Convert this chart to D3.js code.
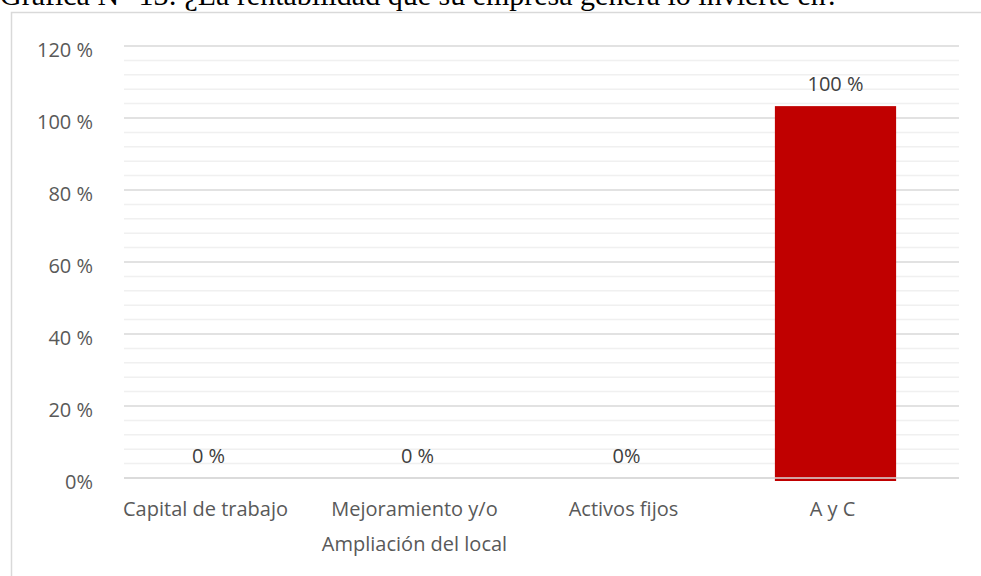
<!DOCTYPE html>
<html>
<head>
<meta charset="utf-8">
<script src="https://cdn.jsdelivr.net/npm/d3@7"></script>
<style>
	body { margin: 0; background: #fff; }
	svg { display: block; }
</style>
</head>
<body>
<svg id="chart" width="981" height="576"></svg>
<script>
const TITLE = 'Gráfica N° 13: ¿La rentabilidad que su empresa genera lo invierte en?';
const categories = [['Capital de trabajo'], ['Mejoramiento y/o', 'Ampliación del local'], ['Activos fijos'], ['A y C']];
const values = [0, 0, 0, 103.3];
const valueLabels = ['0 %', '0 %', '0%', '100 %'];
const yTicks = [0, 20, 40, 60, 80, 100, 120];
const yTickLabels = ['0%', '20 %', '40 %', '60 %', '80 %', '100 %', '120 %'];

const svg = d3.select('#chart');
const FONT = '"Open Sans", sans-serif';
const TEXT_COLOR = '#595959';

// frame (cut off on the right, like the source)
svg.append('rect')
	.attr('x', 11.5)
	.attr('y', 12.5)
	.attr('width', 1000)
	.attr('height', 600)
	.attr('fill', 'none')
	.attr('stroke', '#d9d9d9')
	.attr('stroke-width', 1.5);

// title, mostly above the page edge
svg.append('text')
	.attr('x', 0)
	.attr('y', 5)
	.attr('font-family', '"Liberation Serif", serif')
	.attr('font-size', 30)
	.attr('fill', '#000')
	.text(TITLE);

const y = d3.scaleLinear().domain([0, 120]).range([478, 46]);
const x = d3.scaleBand()
	.domain(d3.range(categories.length))
	.range([104, 940])
	.paddingInner(0.42)
	.paddingOuter(0.21);

const gridX1 = 124, gridX2 = 959;

// minor gridlines
svg.append('g')
	.selectAll('line')
	.data(d3.range(0, 121, 4).filter((v) => v % 20 !== 0))
	.join('line')
	.attr('x1', gridX1)
	.attr('x2', gridX2)
	.attr('y1', (d) => y(d))
	.attr('y2', (d) => y(d))
	.attr('stroke', '#f0f0f0')
	.attr('stroke-width', 1.5);

// major gridlines
svg.append('g')
	.selectAll('line')
	.data(yTicks)
	.join('line')
	.attr('x1', gridX1)
	.attr('x2', gridX2)
	.attr('y1', (d) => y(d))
	.attr('y2', (d) => y(d))
	.attr('stroke', '#d9d9d9')
	.attr('stroke-width', 1.5);

// y tick labels
svg.append('g')
	.selectAll('text')
	.data(yTicks)
	.join('text')
	.attr('x', 93)
	.attr('y', (d) => y(d) + 11)
	.attr('text-anchor', 'end')
	.attr('font-family', FONT)
	.attr('font-size', 20)
	.attr('fill', TEXT_COLOR)
	.text((d, i) => yTickLabels[i]);

// bars (Excel draws them slightly past the baseline)
svg.append('g')
	.selectAll('rect')
	.data(values)
	.join('rect')
	.attr('x', (d, i) => x(i))
	.attr('width', x.bandwidth())
	.attr('y', (d) => y(d))
	.attr('height', (d) => (d > 0 ? y(0) - y(d) + 3 : 0))
	.attr('fill', '#c00000');

// baseline on top of the bar
svg.append('line')
	.attr('x1', gridX1)
	.attr('x2', gridX2)
	.attr('y1', y(0))
	.attr('y2', y(0))
	.attr('stroke', '#d9d9d9')
	.attr('stroke-width', 1.5);

// value labels
svg.append('g')
	.selectAll('text')
	.data(values)
	.join('text')
	.attr('x', (d, i) => x(i) + x.bandwidth() / 2)
	.attr('y', (d) => y(d) - 15)
	.attr('text-anchor', 'middle')
	.attr('font-family', FONT)
	.attr('font-size', 20)
	.attr('fill', '#404040')
	.text((d, i) => valueLabels[i]);

// category labels
const cat = svg.append('g')
	.selectAll('text')
	.data(categories)
	.join('text')
	.attr('x', (d, i) => x(i) + x.bandwidth() / 2 - 3)
	.attr('y', 516)
	.attr('text-anchor', 'middle')
	.attr('font-family', FONT)
	.attr('font-size', 20)
	.attr('fill', TEXT_COLOR);

cat.selectAll('tspan')
	.data((d) => d)
	.join('tspan')
	.attr('x', function () { return d3.select(this.parentNode).attr('x'); })
	.attr('dy', (d, i) => (i === 0 ? 0 : 35))
	.text((d) => d);
</script>
</body>
</html>
